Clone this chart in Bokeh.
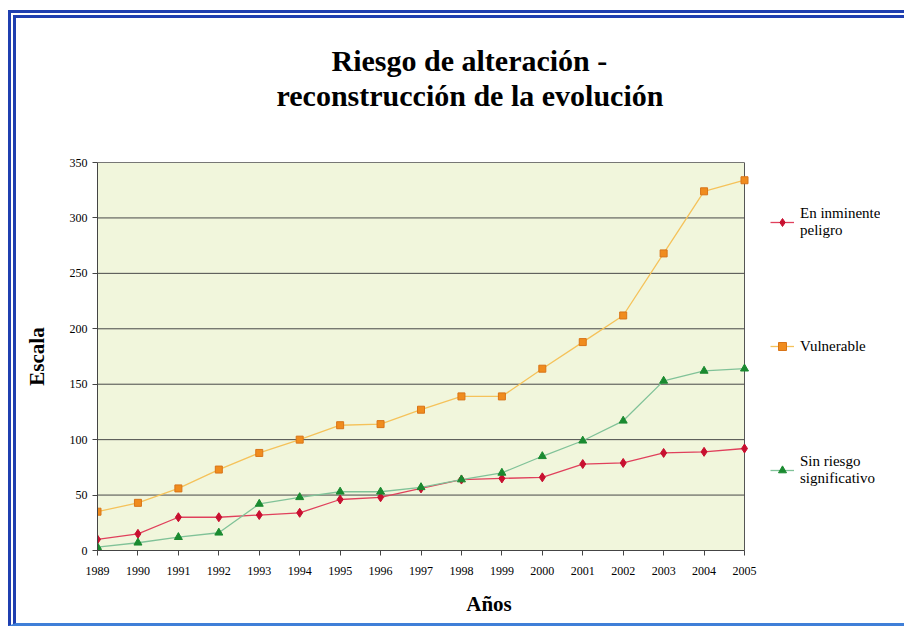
from bokeh.plotting import figure
from bokeh.models import Legend, LegendItem, Title, FixedTicker, Range1d
from bokeh.embed import file_html
from bokeh.resources import INLINE

years = list(range(1989, 2006))
peligro = [10, 15, 30, 30, 32, 34, 46, 48, 56, 64, 65, 66, 78, 79, 88, 89, 92]
vulnerable = [35, 43, 56, 73, 88, 100, 113, 114, 127, 139, 139, 164, 188, 212, 268, 324, 334]
sin_riesgo = [3, 7, 12, 16, 42, 48, 53, 53, 57, 64, 70, 85, 99, 117, 153, 162, 164]
y_ticks = [0, 50, 100, 150, 200, 250, 300, 350]

labels = ["En inminente\npeligro", "Vulnerable", "Sin riesgo\nsignificativo"]
title_lines = ["Riesgo de alteración -", "reconstrucción de la evolución"]

SERIF = "Liberation Serif"
W, H = 896, 616
# plot area spans 647 px for the 16 years; the frame is extended to the right
# so that the legend (which lives inside the frame) is not clipped.
PLOT_PX = 647
EXTRA_PX = 136
x_end = years[-1] + EXTRA_PX * (years[-1] - years[0]) / PLOT_PX

p = figure(width=W, height=H, output_backend="svg", toolbar_location=None,
           x_range=Range1d(years[0], x_end), y_range=Range1d(y_ticks[0], y_ticks[-1]),
           min_border_left=81, min_border_right=W - 81 - PLOT_PX - EXTRA_PX,
           min_border_top=144, min_border_bottom=84,
           background_fill_color="white", border_fill_color="white",
           outline_line_color=None,
           styles={"margin": "10px 0 0 8px",
                   "border-left": "8px double #1f3fb0",
                   "border-top": "8px double #1f3fb0",
                   "border-bottom": "3px solid #3f7fd8"})

# spacer (closest to the frame), then second title line, then first
p.add_layout(Title(text=" ", text_font_size="35px"), "above")
p.add_layout(Title(text=title_lines[1], align="left", offset=179, text_font=SERIF,
                   text_font_size="30px", text_font_style="bold", text_color="black",
                   standoff=0), "above")
p.add_layout(Title(text=title_lines[0], align="left", offset=234, text_font=SERIF,
                   text_font_size="30px", text_font_style="bold", text_color="black",
                   standoff=0), "above")

# plot area background and border
p.quad(left=[years[0]], right=[years[-1]], bottom=[y_ticks[0]], top=[y_ticks[-1]],
       fill_color="#f1f6dc", line_color="#555555", line_width=1)
# horizontal grid lines limited to the plot area
p.segment(x0=[years[0]] * len(y_ticks), x1=[years[-1]] * len(y_ticks),
          y0=y_ticks, y1=y_ticks, line_color="#474747", line_width=1)

p.xgrid.visible = False
p.ygrid.visible = False

p.xaxis.ticker = FixedTicker(ticks=years)
p.yaxis.ticker = FixedTicker(ticks=y_ticks)
p.xaxis.bounds = (years[0], years[-1])
for ax in (p.xaxis, p.yaxis):
    ax.axis_line_color = "#444444"
    ax.major_tick_line_color = "#444444"
    ax.minor_tick_line_color = None
    ax.major_tick_in = 0
    ax.major_tick_out = 5
    ax.major_label_text_font = SERIF
    ax.major_label_text_font_size = "12px"
    ax.major_label_text_color = "black"
    ax.axis_label_text_font = SERIF
    ax.axis_label_text_font_size = "21px"
    ax.axis_label_text_font_style = "bold"
    ax.axis_label_text_color = "black"

p.xaxis.axis_label = "Años"
p.yaxis.axis_label = "Escala"
p.xaxis.major_label_standoff = 11
p.xaxis.axis_label_standoff = 14
p.yaxis.major_label_standoff = 5
p.yaxis.axis_label_standoff = 18

l1 = p.line(years, peligro, line_color="#e0405c", line_width=1.3)
m1 = p.scatter(years, peligro, marker="diamond", size=9, fill_color="#c81030", line_color="#c81030")
l2 = p.line(years, vulnerable, line_color="#f5c25a", line_width=1.3)
m2 = p.scatter(years, vulnerable, marker="square", size=7, fill_color="#f08c1e", line_color="#d87418")
l3 = p.line(years, sin_riesgo, line_color="#80c298", line_width=1.3)
m3 = p.scatter(years, sin_riesgo, marker="triangle", size=8, fill_color="#1a8a30", line_color="#1a8a30")

legend = Legend(items=[LegendItem(label=labels[0], renderers=[l1, m1]),
                       LegendItem(label=labels[1], renderers=[l2, m2]),
                       LegendItem(label=labels[2], renderers=[l3, m3])],
                location=(673, 18), orientation="vertical",
                border_line_color=None, background_fill_alpha=0,
                label_text_font=SERIF, label_text_font_size="15px", label_text_color="black",
                glyph_width=24, label_height=124, spacing=0, margin=0, padding=0,
                label_standoff=6)
p.add_layout(legend, "center")

open("out.html", "w").write(file_html(p, INLINE))
